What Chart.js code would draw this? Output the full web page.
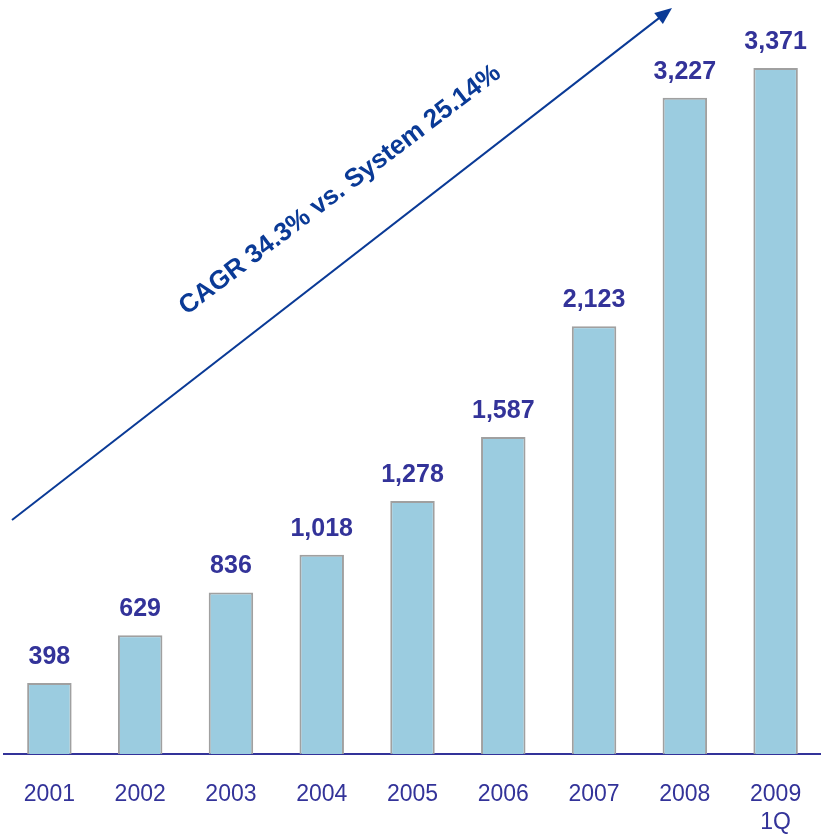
<!DOCTYPE html>
<html>
<head>
<meta charset="utf-8">
<script src="https://cdn.jsdelivr.net/npm/chart.js@4/dist/chart.umd.min.js"></script>
<style>
    html, body { margin: 0; padding: 0; background: #ffffff; overflow: hidden; }
    canvas { display: block; }
</style>
</head>
<body>
<canvas id="growth-chart" width="821" height="836"></canvas>
<script>
const categories = ['2001', '2002', '2003', '2004', '2005', '2006', '2007', '2008', ['2009', '1Q']];
const values = [398, 629, 836, 1018, 1278, 1587, 2123, 3227, 3371];
const cagrText = 'CAGR 34.3% vs. System 25.14%';

const labelBlue = '#333399';
const arrowBlue = '#0a3a96';

// value labels above each bar
const valueLabels = {
    id: 'valueLabels',
    afterDatasetsDraw(chart) {
        const ctx = chart.ctx;
        const meta = chart.getDatasetMeta(0);
        ctx.save();
        ctx.fillStyle = labelBlue;
        ctx.font = 'bold 25px "Liberation Sans", Arial, sans-serif';
        ctx.textAlign = 'center';
        ctx.textBaseline = 'alphabetic';
        meta.data.forEach((bar, i) => {
            ctx.fillText(values[i].toLocaleString('en-US'), bar.x, bar.y - 19);
        });
        ctx.restore();
    },
};

// growth arrow with rotated caption
const growthArrow = {
    id: 'growthArrow',
    afterDraw(chart) {
        const ctx = chart.ctx;
        const x0 = 12, y0 = 520, x1 = 672, y1 = 8;
        const angle = Math.atan2(y1 - y0, x1 - x0);
        ctx.save();
        ctx.strokeStyle = arrowBlue;
        ctx.fillStyle = arrowBlue;
        ctx.lineWidth = 2;
        ctx.beginPath();
        ctx.moveTo(x0, y0);
        ctx.lineTo(x1 - 12 * Math.cos(angle), y1 - 12 * Math.sin(angle));
        ctx.stroke();

        ctx.translate(x1, y1);
        ctx.rotate(angle);
        ctx.beginPath();
        ctx.moveTo(0, 0);
        ctx.lineTo(-17, -7);
        ctx.lineTo(-17, 7);
        ctx.closePath();
        ctx.fill();
        ctx.restore();

        ctx.save();
        ctx.translate(340, 190);
        ctx.rotate(-37.2 * Math.PI / 180);
        ctx.fillStyle = arrowBlue;
        ctx.font = 'bold 26px "Liberation Sans", Arial, sans-serif';
        ctx.textAlign = 'center';
        ctx.textBaseline = 'middle';
        ctx.fillText(cagrText, 0, 0);
        ctx.restore();
    },
};

new Chart(document.getElementById('growth-chart'), {
    type: 'bar',
    data: {
        labels: categories,
        datasets: [{
            data: values,
            backgroundColor: '#9bcce0',
            borderColor: '#a0a0a0',
            borderWidth: 2,
            barPercentage: 0.49,
            categoryPercentage: 1,
        }],
    },
    options: {
        responsive: false,
        animation: false,
        layout: { padding: { left: 4, right: 0, top: 0, bottom: 2 } },
        plugins: {
            legend: { display: false },
            tooltip: { enabled: false },
        },
        scales: {
            x: {
                grid: { display: false, drawTicks: false },
                border: { color: labelBlue, width: 2 },
                ticks: {
                    color: labelBlue,
                    padding: 27,
                    maxRotation: 0,
                    font: { family: '"Liberation Sans", Arial, sans-serif', size: 23, lineHeight: 1.2 },
                },
                afterFit(scale) {
                    // keep the axis line where the original has it
                    scale.height = 80;
                    scale.paddingLeft = 0;
                    scale.paddingRight = 0;
                },
            },
            y: {
                display: false,
                min: 55,
                max: 3700,
            },
        },
    },
    plugins: [valueLabels, growthArrow],
});
</script>
</body>
</html>
